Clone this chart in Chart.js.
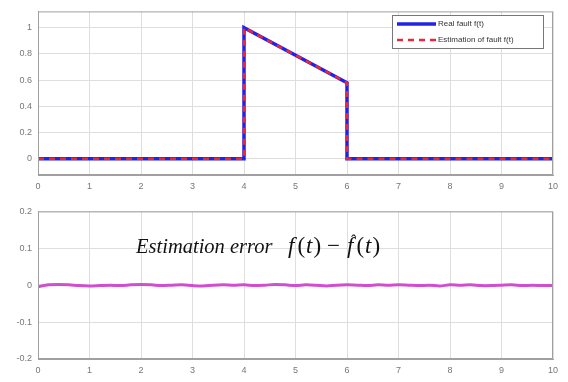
<!DOCTYPE html>
<html>
<head>
<meta charset="utf-8">
<script src="https://cdn.jsdelivr.net/npm/chart.js@4.4.0/dist/chart.umd.min.js"></script>
<style>
  html, body { margin: 0; padding: 0; background: #fff; }
  #wrap { position: relative; width: 568px; height: 382px; }
  #chartFault { position: absolute; left: 0; top: 0; }
  #chartError { position: absolute; left: 0; top: 200px; }
</style>
</head>
<body>
<div id="wrap">
  <canvas id="chartFault" width="568" height="200"></canvas>
  <canvas id="chartError" width="568" height="182"></canvas>
</div>
<script>
// fault signal (top plot)
var faultTime = [0, 4, 4, 6, 6, 10];
var realFault = [0, 0, 1, 0.58, 0, 0];
var estFault = [0, 0, 1, 0.58, 0, 0];

// estimation error (bottom plot)
var errTime = [0, 0.2, 0.4, 0.6, 0.8, 1, 1.2, 1.4, 1.6, 1.8, 2, 2.2, 2.4, 2.6, 2.8, 3,
  3.2, 3.4, 3.6, 3.8, 4, 4.2, 4.4, 4.6, 4.8, 5, 5.2, 5.4, 5.6, 5.8, 6, 6.2, 6.4, 6.6,
  6.8, 7, 7.2, 7.4, 7.6, 7.8, 8, 8.2, 8.4, 8.6, 8.8, 9, 9.2, 9.4, 9.6, 9.8, 10];
var errValue = [-0.004, 0.001, 0.002, 0.001, -0.001, -0.002, -0.001, 0.000, -0.001, 0.001, 0.002,
  0.001, -0.001, 0.000, 0.001, -0.001, -0.002, 0.000, 0.001, 0.000, 0.001, -0.001, 0.000, 0.002,
  0.001, -0.001, 0.001, 0.000, -0.002, 0.000, 0.001, 0.000, -0.001, 0.001, 0.000, 0.001, 0.000,
  -0.001, 0.000, -0.002, 0.001, 0.000, 0.001, -0.001, -0.001, 0.000, 0.001, -0.001, 0.000, -0.001, -0.001];

var xTicks = [0, 1, 2, 3, 4, 5, 6, 7, 8, 9, 10];
var faultTicks = [0, 0.2, 0.4, 0.6, 0.8, 1];
var errTicks = [-0.2, -0.1, 0, 0.1, 0.2];
var legendLabels = ['Real fault f(t)', 'Estimation of fault f(t)'];

function pts(xs, ys) {
    return xs.map(function (x, i) { return { x: x, y: ys[i] }; });
}

var gridColor = '#dedede';
var tickColor = '#777';

function xScale(height) {
    return {
        type: 'linear', min: 0, max: 10,
        afterBuildTicks: function (s) { s.ticks = xTicks.map(function (v) { return { value: v }; }); },
        afterFit: function (s) { s.height = height; },
        grid: { color: gridColor, drawTicks: false },
        border: { color: '#a0a0a0' },
        ticks: { color: tickColor, font: { family: 'Liberation Sans', size: 9 }, padding: 6, maxRotation: 0 }
    };
}

function yScale(min, max, list) {
    return {
        min: min, max: max,
        afterBuildTicks: function (s) { s.ticks = list.map(function (v) { return { value: v }; }); },
        afterFit: function (s) { s.width = 38; },
        grid: { color: gridColor, drawTicks: false },
        border: { color: '#a0a0a0' },
        ticks: { color: tickColor, font: { family: 'Liberation Sans', size: 9 }, padding: 6,
                 callback: function (v) { return String(Math.round(v * 10) / 10); } }
    };
}

// full frame round the plot area
var boxPlugin = {
    id: 'box',
    afterDraw: function (chart) {
        var a = chart.chartArea, c = chart.ctx;
        c.save();
        c.strokeStyle = '#a0a0a0';
        c.lineWidth = 1;
        c.strokeRect(a.left + 0.5, a.top + 0.5, a.right - a.left - 1, a.bottom - a.top - 1);
        c.restore();
    }
};

var legendPlugin = {
    id: 'boxLegend',
    afterDraw: function (chart) {
        var c = chart.ctx;
        var x = 392, y = 15, w = 151, h = 33;
        c.save();
        c.fillStyle = '#fff';
        c.fillRect(x, y, w, h);
        c.strokeStyle = '#777';
        c.lineWidth = 1;
        c.strokeRect(x + 0.5, y + 0.5, w, h);
        var ds = chart.data.datasets;
        [24, 40].forEach(function (ly, i) {
            c.strokeStyle = ds[i].borderColor;
            c.lineWidth = ds[i].borderWidth;
            c.setLineDash(ds[i].borderDash || []);
            c.beginPath();
            c.moveTo(397, ly);
            c.lineTo(436, ly);
            c.stroke();
            c.setLineDash([]);
            c.fillStyle = '#333';
            c.font = '8px "Liberation Sans"';
            c.textBaseline = 'middle';
            c.fillText(ds[i].label, 438, ly);
        });
        c.restore();
    }
};

var notePlugin = {
    id: 'note',
    afterDraw: function (chart) {
        var c = chart.ctx;
        var base = 53;
        c.save();
        c.fillStyle = '#111';
        c.textBaseline = 'alphabetic';
        c.font = 'italic 20.5px "Liberation Serif"';
        c.fillText('Estimation error', 136, base);
        var x = 288;
        function put(t, italic, gap) {
            c.font = (italic ? 'italic ' : '') + '23px "Liberation Serif"';
            c.fillText(t, x, base);
            x += c.measureText(t).width + (gap || 0);
        }
        put('f', true, 3); put('(', false, 1); put('t', true, 1); put(')', false, 6);
        put('\u2212', false, 7);
        var hx = x;
        put('f', true, 3);
        c.font = '16px "Liberation Serif"';
        c.fillText('\u02C6', hx + 4, base - 7);
        put('(', false, 1); put('t', true, 1); put(')', false, 0);
        c.restore();
    }
};

new Chart(document.getElementById('chartFault').getContext('2d'), {
    type: 'scatter',
    data: {
        datasets: [{
            label: legendLabels[0],
            data: pts(faultTime, realFault),
            showLine: true,
            borderColor: '#2222e6',
            borderWidth: 3.5,
            pointRadius: 0,
            tension: 0,
            order: 2
        }, {
            label: legendLabels[1],
            data: pts(faultTime, estFault),
            showLine: true,
            borderColor: '#e8283a',
            borderWidth: 2.5,
            borderDash: [6, 5],
            pointRadius: 0,
            tension: 0,
            order: 1
        }]
    },
    options: {
        responsive: false,
        animation: false,
        layout: { padding: { top: 8, right: 15, left: 0, bottom: 0 } },
        plugins: { legend: { display: false }, tooltip: { enabled: false } },
        scales: {
            x: xScale(25),
            y: yScale(-0.125, 1.125, faultTicks)
        }
    },
    plugins: [boxPlugin, legendPlugin]
});

new Chart(document.getElementById('chartError').getContext('2d'), {
    type: 'scatter',
    data: {
        datasets: [{
            label: 'Estimation error',
            data: pts(errTime, errValue),
            showLine: true,
            borderColor: 'rgba(204, 60, 204, 0.9)',
            borderWidth: 3,
            pointRadius: 0,
            tension: 0.3
        }]
    },
    options: {
        responsive: false,
        animation: false,
        layout: { padding: { top: 9, right: 15, left: 0, bottom: 0 } },
        plugins: { legend: { display: false }, tooltip: { enabled: false } },
        scales: {
            x: xScale(23),
            y: yScale(-0.2, 0.2, errTicks)
        }
    },
    plugins: [boxPlugin, notePlugin]
});
</script>
</body>
</html>
